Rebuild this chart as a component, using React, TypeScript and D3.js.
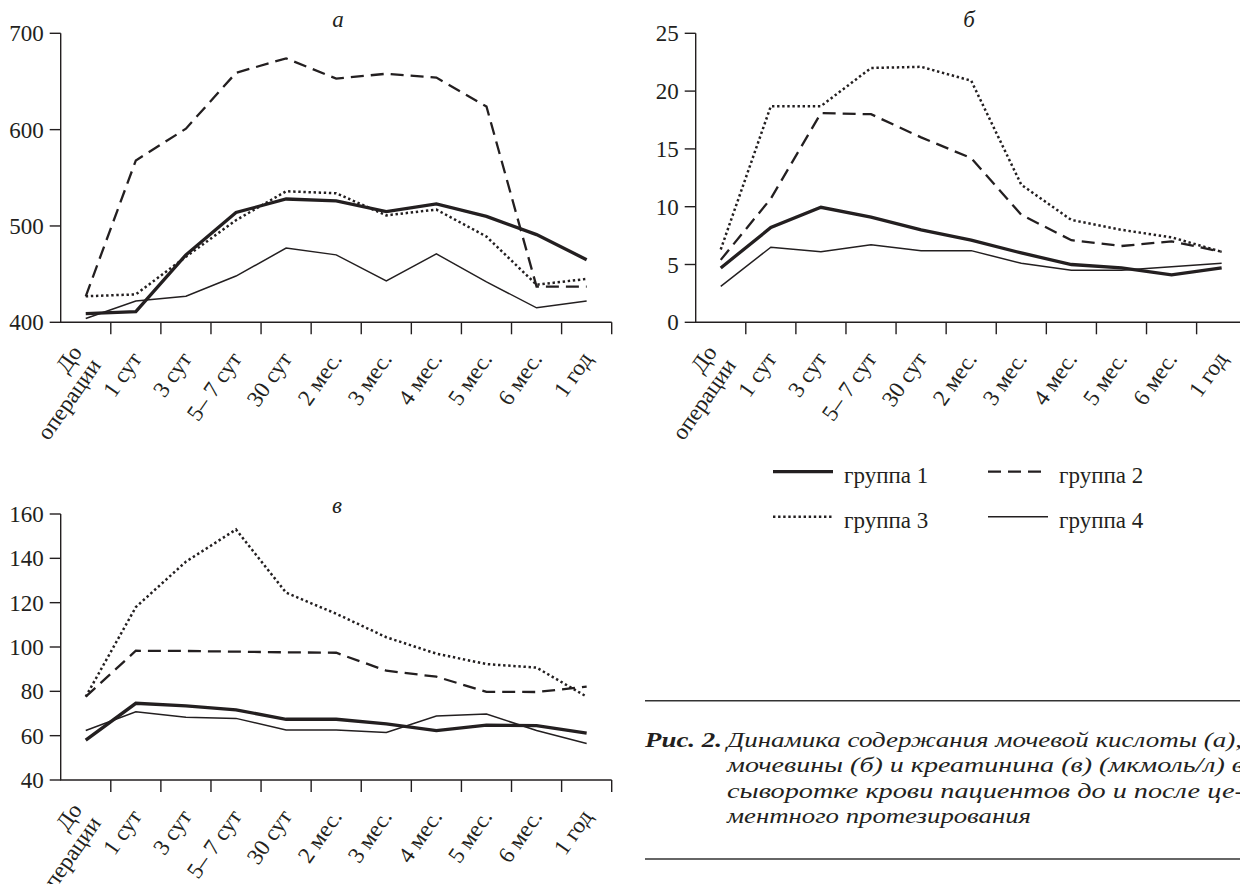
import React from 'react';
import * as d3 from 'd3';

const categories = ['До операции', '1 сут', '3 сут', '5– 7 сут', '30 сут', '2 мес.', '3 мес.', '4 мес.', '5 мес.', '6 мес.', '1 год'];
const groups = ['группа 1', 'группа 2', 'группа 3', 'группа 4'];

// a — uric acid
const uricG1 = [409, 411, 470, 514, 528, 526, 515, 523, 510, 491, 465];
const uricG2 = [427, 568, 601, 659, 674, 653, 658, 654, 624, 437, 437];
const uricG3 = [427, 429, 468, 506, 536, 534, 511, 517, 489, 439, 445];
const uricG4 = [404, 422, 427, 448, 477, 470, 443, 471, 442, 415, 422];

// б — urea
const ureaG1 = [4.7, 8.2, 9.95, 9.1, 8.0, 7.1, 6.0, 5.0, 4.7, 4.1, 4.7];
const ureaG2 = [5.4, 10.7, 18.1, 18.0, 16.0, 14.2, 9.3, 7.1, 6.6, 7.0, 6.1];
const ureaG3 = [6.3, 18.7, 18.7, 22.0, 22.1, 20.9, 11.9, 8.85, 8.0, 7.35, 6.1];
const ureaG4 = [3.1, 6.5, 6.1, 6.7, 6.2, 6.2, 5.1, 4.5, 4.5, 4.8, 5.1];

// в — creatinine
const creatG1 = [58, 74.6, 73.4, 71.6, 67.4, 67.4, 65.3, 62.3, 64.8, 64.5, 61.1];
const creatG2 = [77.6, 98.3, 98.2, 97.9, 97.6, 97.4, 89.3, 86.6, 79.8, 79.7, 82.1];
const creatG3 = [77.6, 118, 138.5, 153, 124.5, 115, 104.4, 97, 92.3, 90.7, 77.6];
const creatG4 = [62.3, 70.8, 68.3, 67.8, 62.6, 62.6, 61.4, 68.9, 69.8, 62.3, 56.5];

const uricTicks = [400, 500, 600, 700];
const ureaTicks = [0, 5, 10, 15, 20, 25];
const creatTicks = [40, 60, 80, 100, 120, 140, 160];

const panelTitles = ['а', 'б', 'в'];

const captionLabel = 'Рис. 2.';
const captionLines = [
  'Динамика содержания мочевой кислоты (а),',
  'мочевины (б) и креатинина (в) (мкмоль/л) в',
  'сыворотке крови пациентов до и после це-',
  'ментного протезирования',
];

const INK = '#231f20';
const FONT = '"Liberation Serif", "Times New Roman", serif';

const lineStyles = [
  { w: 3.3, dash: undefined as string | undefined },
  { w: 2.3, dash: '13,7' },
  { w: 2.5, dash: '2.4,2.7' },
  { w: 1.5, dash: undefined as string | undefined },
];

type PanelProps = {
  left: number; right: number; top: number; bottom: number;
  domain: [number, number]; ticks: number[]; series: number[][];
  title: string; titleX: number; titleY: number;
};

function Panel({ left, right, top, bottom, domain, ticks, series, title, titleX, titleY }: PanelProps) {
  const x = d3.scaleBand<string>().domain(categories).range([left, right]).padding(0);
  const y = d3.scaleLinear().domain(domain).range([bottom, top]);
  const bw = x.bandwidth();
  const cx = (c: string) => (x(c) as number) + bw / 2;
  const line = d3.line<number>().x((_, i) => cx(categories[i])).y((d) => y(d));
  const order = [3, 2, 1, 0];
  return (
    <g>
      <text x={titleX} y={titleY} fontFamily={FONT} fontStyle="italic" fontSize={23} textAnchor="middle" fill={INK}>{title}</text>
      {/* axes */}
      <path d={`M${left},${top}V${bottom}H${right}`} fill="none" stroke={INK} strokeWidth={1.4} />
      {ticks.map((t) => (
        <g key={t}>
          <line x1={left - 11} x2={left} y1={y(t)} y2={y(t)} stroke={INK} strokeWidth={1.4} />
          <text x={left - 17} y={y(t)} dy="0.35em" textAnchor="end" fontFamily={FONT} fontSize={23} fill={INK}>{t}</text>
        </g>
      ))}
      {categories.map((c) => (
        <line key={'t' + c} x1={(x(c) as number) + bw} x2={(x(c) as number) + bw} y1={bottom} y2={bottom + 12} stroke={INK} strokeWidth={1.4} />
      ))}
      {categories.map((c, i) => {
        const lines = i === 0 ? c.split(' ') : [c];
        const lh = 23;
        return (
          <text key={'l' + c} transform={`translate(${cx(c)},${bottom + 32}) rotate(-55)`} textAnchor="end" fontFamily={FONT} fontSize={23} fill={INK}>
            {lines.map((s, j) => (
              <tspan key={j} x={0} y={(j - (lines.length - 1) / 2) * lh} dy="0.35em">{s}</tspan>
            ))}
          </text>
        );
      })}
      {order.map((k) => (
        <path key={'s' + k} d={line(series[k]) as string} fill="none" stroke={INK} strokeWidth={lineStyles[k].w} strokeDasharray={lineStyles[k].dash} strokeLinejoin="miter" />
      ))}
    </g>
  );
}

export default function App() {
  const legendPos = [
    { x: 773, y: 471.7 },
    { x: 988, y: 471.7 },
    { x: 773, y: 516.7 },
    { x: 988, y: 516.7 },
  ];
  return (
    <svg width={1240} height={884} style={{ position: 'absolute', left: 0, top: 0, background: '#fff' }}>
      <rect width={1240} height={884} fill="#fff" />
      <Panel left={60.7} right={611.7} top={33.3} bottom={322.3} domain={[400, 700]} ticks={uricTicks}
        series={[uricG1, uricG2, uricG3, uricG4]} title={panelTitles[0]} titleX={338} titleY={27} />
      <Panel left={695.7} right={1246.7} top={33.3} bottom={322.3} domain={[0, 25]} ticks={ureaTicks}
        series={[ureaG1, ureaG2, ureaG3, ureaG4]} title={panelTitles[1]} titleX={969} titleY={27} />
      <Panel left={60.7} right={611.7} top={514} bottom={780} domain={[40, 160]} ticks={creatTicks}
        series={[creatG1, creatG2, creatG3, creatG4]} title={panelTitles[2]} titleX={337} titleY={513} />
      {/* legend */}
      {groups.map((g, i) => (
        <g key={g}>
          <line x1={legendPos[i].x} x2={legendPos[i].x + 60} y1={legendPos[i].y} y2={legendPos[i].y}
            stroke={INK} strokeWidth={lineStyles[i].w} strokeDasharray={lineStyles[i].dash} />
          <text x={legendPos[i].x + 71} y={legendPos[i].y + 11} fontFamily={FONT} fontSize={23} fill={INK}>{g}</text>
        </g>
      ))}
      {/* caption */}
      <line x1={645} x2={1240} y1={700.7} y2={700.7} stroke="#333" strokeWidth={1.4} />
      <line x1={645} x2={1240} y1={859} y2={859} stroke="#333" strokeWidth={1.4} />
      <text x={645} y={747} fontFamily={FONT} fontStyle="italic" fontWeight="bold" fontSize={21} fill={INK}
        textLength={77} lengthAdjust="spacingAndGlyphs">{captionLabel}</text>
      {captionLines.map((s, i) => (
        <text key={i} x={727} y={747 + i * 25.4} fontFamily={FONT} fontStyle="italic" fontSize={21} fill={INK}
          textLength={[515, 517, 517, 304][i]} lengthAdjust="spacingAndGlyphs">{s}</text>
      ))}
    </svg>
  );
}
